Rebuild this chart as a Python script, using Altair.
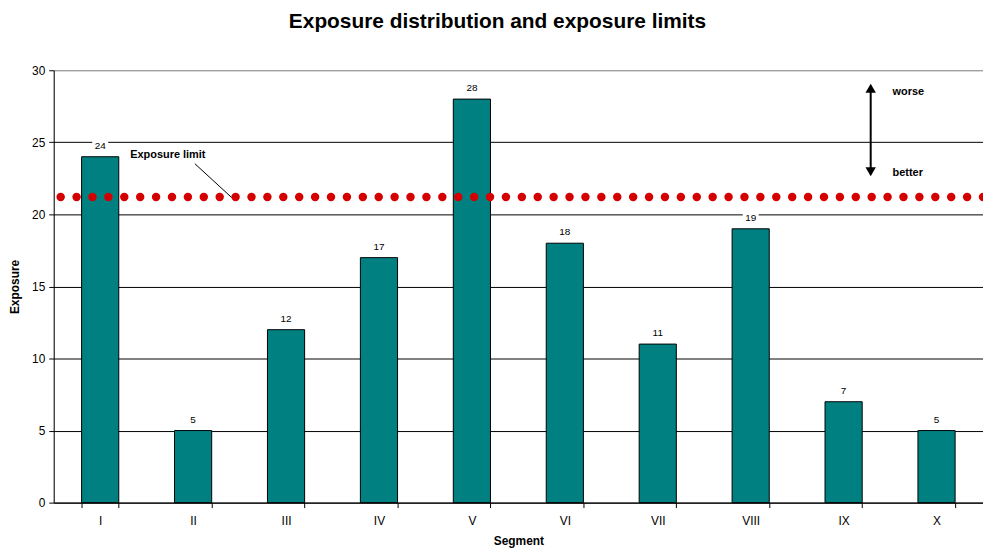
import altair as alt
import pandas as pd

segments = ["I", "II", "III", "IV", "V", "VI", "VII", "VIII", "IX", "X"]
exposure = [24, 5, 12, 17, 28, 18, 11, 19, 7, 5]
exposure_limit = [21.2]
y_ticks = [0, 5, 10, 15, 20, 25, 30]

FONT = "Liberation Sans"

df = pd.DataFrame({"Segment": segments, "Exposure": exposure})
limit_df = pd.DataFrame({"limit": exposure_limit})

x_enc = alt.X(
    "Segment:N",
    sort=segments,
    scale=alt.Scale(paddingInner=0.6, paddingOuter=0.3),
    axis=alt.Axis(
        title="Segment", labelAngle=0, tickBand="extent", tickSize=5,
        labelPadding=8, titlePadding=9, grid=False,
        domainColor="black", tickColor="black", labelColor="black",
        labelFontSize=12, titleFontSize=12, titleFontWeight="bold",
        labelFont=FONT, titleFont=FONT, titleColor="black",
    ),
)
y_enc = alt.Y(
    "Exposure:Q",
    scale=alt.Scale(domain=[0, 30]),
    axis=alt.Axis(
        title="Exposure", values=y_ticks, tickSize=5, labelPadding=4,
        titlePadding=10, grid=True,
        gridColor=alt.condition("datum.value == 30", alt.value("#888888"), alt.value("black")),
        gridWidth=1, domainColor="black", tickColor="black", labelColor="black",
        labelFontSize=12, titleFontSize=12, titleFontWeight="bold",
        labelFont=FONT, titleFont=FONT, titleColor="black",
    ),
)

bars = alt.Chart(df).mark_bar(color="#008080", stroke="black", strokeWidth=1).encode(
    x=x_enc, y=y_enc
)

label_bg = alt.Chart(df).mark_point(
    shape="M-1,-0.7L1,-0.7L1,0.7L-1,0.7Z", size=256, filled=True,
    color="white", opacity=1, yOffset=-11,
).encode(
    x=alt.X("Segment:N", sort=segments),
    y=alt.Y("Exposure:Q"),
)

labels = alt.Chart(df).mark_text(
    dy=-11, fontSize=10, font=FONT, color="black", baseline="middle"
).encode(
    x=alt.X("Segment:N", sort=segments),
    y=alt.Y("Exposure:Q"),
    text=alt.Text("Exposure:Q"),
)

limit_line = alt.Chart(limit_df).mark_rule(
    color="#D40000", strokeWidth=8.5, strokeDash=[0, 16], strokeCap="round"
).encode(y=alt.Y("limit:Q"))

ann = pd.DataFrame({"t": ["Exposure limit"]})
limit_text = alt.Chart(ann).mark_text(
    align="left", baseline="middle", fontSize=11, fontWeight="bold", font=FONT, color="black"
).encode(x=alt.value(77), y=alt.value(85), text="t:N")

leader = alt.Chart(ann).mark_rule(color="black", strokeWidth=1).encode(
    x=alt.value(142), y=alt.value(94), x2=alt.value(179), y2=alt.value(128)
)

arrow_line = alt.Chart(ann).mark_rule(color="black", strokeWidth=2).encode(
    x=alt.value(822), y=alt.value(18), x2=alt.value(822), y2=alt.value(100)
)
arrow_up = alt.Chart(ann).mark_point(
    shape="triangle-up", filled=True, color="black", size=110, opacity=1
).encode(x=alt.value(822), y=alt.value(18))
arrow_down = alt.Chart(ann).mark_point(
    shape="triangle-down", filled=True, color="black", size=110, opacity=1
).encode(x=alt.value(822), y=alt.value(102))

worse_text = alt.Chart(pd.DataFrame({"t": ["worse"]})).mark_text(
    align="left", baseline="middle", fontSize=11, fontWeight="bold", font=FONT, color="black"
).encode(x=alt.value(844), y=alt.value(22), text="t:N")
better_text = alt.Chart(pd.DataFrame({"t": ["better"]})).mark_text(
    align="left", baseline="middle", fontSize=11, fontWeight="bold", font=FONT, color="black"
).encode(x=alt.value(844), y=alt.value(103), text="t:N")

chart = alt.layer(
    bars, label_bg, labels, limit_line, limit_text, leader,
    arrow_line, arrow_up, arrow_down, worse_text, better_text,
).properties(
    width=935,
    height=435,
    autosize=alt.AutoSizeParams(type="none"),
    padding={"left": 46, "top": 61, "right": 0, "bottom": 44},
    title=alt.TitleParams(
        "Exposure distribution and exposure limits",
        fontSize=21, font=FONT, fontWeight="bold", color="black",
        offset=33, dx=-21,
    ),
).configure_view(stroke=None).configure(background="white")

chart.save("out.html", embed_options={"renderer": "svg", "actions": False})
